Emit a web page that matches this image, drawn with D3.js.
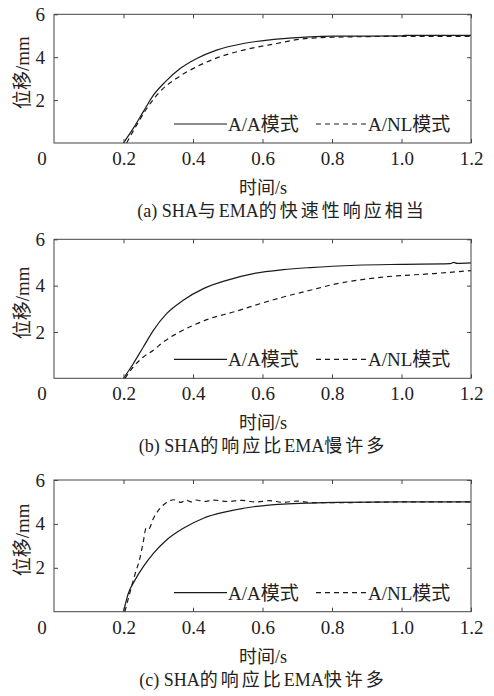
<!DOCTYPE html>
<html>
<head>
<meta charset="utf-8">
<script src="https://cdn.jsdelivr.net/npm/d3@7"></script>
<style>
  html, body { margin: 0; padding: 0; background: #fff; }
  svg { display: block; }
  text { fill: #222; font-family: "Liberation Serif", "Times New Roman", "Noto Sans CJK SC", serif; }
</style>
</head>
<body>
<div id="chart"></div>
<script>
// x tick labels and y ticks shared by all three panels
const xTicks = [0.2, 0.4, 0.6, 0.8, 1.0, 1.2];
const yTicks = [2, 4, 6];
const legendNames = ["A/A模式", "A/NL模式"];
const captions = ["(a) SHA与EMA的快速性响应相当", "(b) SHA的响应比EMA慢许多", "(c) SHA的响应比EMA快许多"];

// panel (a)
const aSolidT = [0.2, 0.228, 0.257, 0.286, 0.32, 0.363, 0.411, 0.468, 0.545, 0.641, 0.737, 0.8, 1.0, 1.01, 1.2];
const aSolidV = [0, 0.68, 1.46, 2.23, 2.85, 3.47, 3.94, 4.33, 4.64, 4.84, 4.95, 4.98, 4.99, 5.02, 5.02];
const aDashT = [0.209, 0.238, 0.267, 0.305, 0.353, 0.411, 0.478, 0.545, 0.641, 0.708, 0.8, 1.0, 1.2];
const aDashV = [0, 0.84, 1.61, 2.4, 3.02, 3.56, 4.02, 4.33, 4.64, 4.84, 4.93, 4.97, 4.97];

// panel (b)
const bSolidT = [0.2, 0.228, 0.257, 0.286, 0.324, 0.372, 0.43, 0.497, 0.574, 0.66, 0.737, 0.87, 1.0, 1.14, 1.15, 1.16, 1.2];
const bSolidV = [0, 0.63, 1.35, 2.07, 2.79, 3.37, 3.87, 4.23, 4.52, 4.69, 4.78, 4.88, 4.92, 4.95, 5.0, 4.96, 4.98];
const bDashT = [0.204, 0.228, 0.257, 0.286, 0.315, 0.353, 0.401, 0.449, 0.516, 0.593, 0.66, 0.737, 0.804, 0.948, 1.092, 1.2];
const bDashV = [0, 0.49, 0.92, 1.21, 1.57, 1.93, 2.29, 2.58, 2.86, 3.22, 3.51, 3.8, 4.05, 4.37, 4.52, 4.65];

// panel (c)
const cSolidT = [0.2, 0.214, 0.233, 0.257, 0.286, 0.324, 0.372, 0.43, 0.497, 0.574, 0.66, 0.737, 0.82, 1.0, 1.2];
const cSolidV = [0, 0.84, 1.44, 2.05, 2.66, 3.27, 3.8, 4.26, 4.56, 4.78, 4.9, 4.95, 4.98, 5.0, 5.0];
const cDashT = [0.204, 0.219, 0.233, 0.247, 0.257, 0.265, 0.272, 0.286, 0.305, 0.324, 0.345, 0.365, 0.38, 0.395, 0.41, 0.43, 0.46, 0.5, 0.54, 0.58, 0.62, 0.66, 0.7, 0.74, 0.82, 1.0, 1.2];
const cDashV = [0, 0.9, 1.7, 2.43, 3.19, 3.8, 3.75, 4.25, 4.71, 4.97, 5.1, 4.98, 5.08, 5.0, 5.09, 5.02, 5.08, 5.02, 5.07, 5.0, 5.06, 4.98, 5.04, 4.97, 4.97, 5.0, 5.0];

const panels = [
  { top: 14.3, bottom: 143, solid: [aSolidT, aSolidV], dash: [aDashT, aDashV], capX: 282 },
  { top: 239.3, bottom: 378.3, solid: [bSolidT, bSolidV], dash: [bDashT, bDashV], capX: 263 },
  { top: 480, bottom: 611.7, solid: [cSolidT, cSolidV], dash: [cDashT, cDashV], capX: 263 }
];

const width = 494, height = 696;
const left = 54, right = 471;

const svg = d3.select("#chart").append("svg")
  .attr("width", width)
  .attr("height", height);

const x = d3.scaleLinear().domain([0, 1.2]).range([left, right]);

panels.forEach((p, i) => {
  const y = d3.scaleLinear().domain([0, 6]).range([p.bottom, p.top]);
  const g = svg.append("g");

  const line = d3.line()
    .x(d => x(d[0]))
    .y(d => y(d[1]))
    .curve(d3.curveMonotoneX);

  const zip = (ts, vs) => ts.map((t, k) => [t, vs[k]]);

  g.append("path")
    .datum(zip(p.dash[0], p.dash[1]))
    .attr("d", line)
    .attr("fill", "none")
    .attr("stroke", "#1a1a1a")
    .attr("stroke-width", 1.2)
    .attr("stroke-dasharray", "5,4");

  g.append("path")
    .datum(zip(p.solid[0], p.solid[1]))
    .attr("d", line)
    .attr("fill", "none")
    .attr("stroke", "#1a1a1a")
    .attr("stroke-width", 1.2);

  // inward ticks on all four sides
  const bottomAxis = g.append("g")
    .attr("transform", `translate(0,${p.bottom})`)
    .call(d3.axisBottom(x).tickValues(xTicks).tickSize(-4).tickPadding(8.5).tickFormat(d3.format(".1f")));
  const topAxis = g.append("g")
    .attr("transform", `translate(0,${p.top})`)
    .call(d3.axisTop(x).tickValues(xTicks).tickSize(-4).tickFormat(""));
  const leftAxis = g.append("g")
    .attr("transform", `translate(${left},0)`)
    .call(d3.axisLeft(y).tickValues(yTicks).tickSize(-4).tickPadding(9).tickFormat(d3.format("d")));
  const rightAxis = g.append("g")
    .attr("transform", `translate(${right},0)`)
    .call(d3.axisRight(y).tickValues(yTicks).tickSize(-4).tickFormat(""));

  [bottomAxis, topAxis, leftAxis, rightAxis].forEach(a => {
    a.select(".domain").remove();
    a.selectAll("line").attr("stroke", "#444");
    a.selectAll("text")
      .style("font-family", "'Liberation Serif', serif")
      .style("font-size", "19px")
      .attr("fill", "#222");
  });

  g.append("rect")
    .attr("x", left)
    .attr("y", p.top)
    .attr("width", right - left)
    .attr("height", p.bottom - p.top)
    .attr("fill", "none")
    .attr("stroke", "#444")
    .attr("stroke-width", 1);

  // shared origin label
  g.append("text")
    .attr("x", 42)
    .attr("y", p.bottom + 22)
    .attr("text-anchor", "middle")
    .style("font-size", "19px")
    .text("0");

  // legend
  const ly = p.bottom - 19;
  g.append("line")
    .attr("x1", 174).attr("x2", 227)
    .attr("y1", ly).attr("y2", ly)
    .attr("stroke", "#1a1a1a").attr("stroke-width", 1.2);
  g.append("text")
    .attr("x", 228).attr("y", ly).attr("dy", "0.36em")
    .style("font-size", "19px")
    .text(legendNames[0]);
  g.append("line")
    .attr("x1", 316).attr("x2", 367)
    .attr("y1", ly).attr("y2", ly)
    .attr("stroke", "#1a1a1a").attr("stroke-width", 1.2)
    .attr("stroke-dasharray", "5,4");
  g.append("text")
    .attr("x", 368).attr("y", ly).attr("dy", "0.36em")
    .style("font-size", "19px")
    .text(legendNames[1]);

  // axis titles
  g.append("text")
    .attr("transform", `translate(22,${(p.top + p.bottom) / 2 - 6}) rotate(-90)`)
    .attr("dy", "0.35em")
    .attr("text-anchor", "middle")
    .style("font-size", "19px")
    .text("位移/mm");

  g.append("text")
    .attr("x", 263)
    .attr("y", p.bottom + 51)
    .attr("text-anchor", "middle")
    .style("font-size", "18px")
    .text("时间/s");

  // caption: Chinese runs are set with wider tracking than the Latin runs
  const cap = g.append("text")
    .attr("x", p.capX)
    .attr("y", p.bottom + 74)
    .attr("text-anchor", "middle")
    .style("font-size", "18px");
  captions[i].split(/([\u4e00-\u9fff]+)/).filter(s => s.length).forEach(s => {
    cap.append("tspan")
      .style("letter-spacing", /[\u4e00-\u9fff]/.test(s) ? "3px" : "0px")
      .text(s);
  });
});
</script>
</body>
</html>
